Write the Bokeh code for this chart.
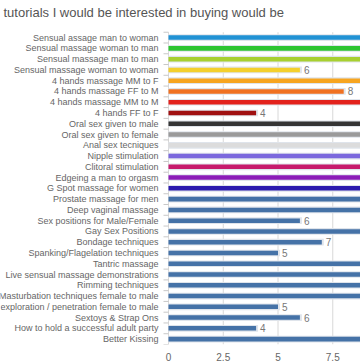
import math
from bokeh.plotting import figure
from bokeh.models import (ColumnDataSource, LabelSet, Label, Range1d, FixedTicker)
from bokeh.core.properties import value
from bokeh.embed import file_html
from bokeh.resources import INLINE

title_text = "tutorials I would be interested in buying would be"

categories = [
    "Sensual assage man to woman",
    "Sensual massage woman to man",
    "Sensual massage man to man",
    "Sensual massage woman to woman",
    "4 hands massage MM to F",
    "4 hands massage FF to M",
    "4 hands massage MM to M",
    "4 hands FF to F",
    "Oral sex given to male",
    "Oral sex given to female",
    "Anal sex tecniques",
    "Nipple stimulation",
    "Clitoral stimulation",
    "Edgeing a man to orgasm",
    "G Spot massage for women",
    "Prostate massage for men",
    "Deep vaginal massage",
    "Sex positions for Male/Female",
    "Gay Sex Positions",
    "Bondage techniques",
    "Spanking/Flagelation techniques",
    "Tantric massage",
    "Live sensual massage demonstrations",
    "Rimming techniques",
    "Masturbation techniques female to male",
    "exploration / penetration female to male",
    "Sextoys & Strap Ons",
    "How to hold a successful adult party",
    "Better Kissing",
]

values = [10, 10, 9, 6, 9, 8, 9, 4, 11, 10, 9, 10, 10, 9, 11, 9, 9, 6, 9, 7,
          5, 10, 9, 9, 9, 5, 6, 4, 10]

colors = ["#2192d4", "#2ec531", "#a8d030", "#f4d02c", "#f7a520", "#f07121",
          "#e3221c", "#a01010", "#353535", "#9a9a9a", "#dcdcdc", "#7b68dd",
          "#c71a6c", "#8c1cb8", "#2b1aae"] + ["#4572a7"] * 14

x_ticks = [0, 2.5, 5, 7.5]
x_tick_labels = ["0", "2.5", "5", "7.5"]

# layout constants (pixels)
W, H = 360, 363
BOTTOM = 16          # room for x tick labels
PLOT_LEFT = 168      # pixel where value 0 sits
ROWS_TOP = 32        # pixel where the first row starts
PX_PER_UNIT = 21.9

n = len(categories)
frame_h = H - BOTTOM
row_px = (frame_h - ROWS_TOP) / n
x_start = -PLOT_LEFT / PX_PER_UNIT
x_end = (W - PLOT_LEFT) / PX_PER_UNIT
y_end = n + ROWS_TOP / row_px

pos = [n - i - 0.5 for i in range(n)]
src = ColumnDataSource(dict(
    cat=categories, pos=pos, val=values,
    shadow=[v + 0.09 for v in values], col=colors, zero=[0] * n,
))
shown = [i for i, v in enumerate(values) if v <= x_end - 0.6]
vsrc = ColumnDataSource(dict(
    val=[values[i] for i in shown], pos=[pos[i] for i in shown],
    txt=[str(values[i]) for i in shown],
))

p = figure(width=W, height=H,
           y_range=Range1d(0, y_end), x_range=Range1d(x_start, x_end),
           output_backend="svg", toolbar_location=None,
           min_border_left=0, min_border_right=0,
           min_border_top=0, min_border_bottom=BOTTOM)
p.outline_line_color = None
p.background_fill_color = "white"
p.border_fill_color = "white"
p.xgrid.grid_line_color = None
p.ygrid.grid_line_color = None
p.yaxis.visible = False

# vertical grid lines over the row area
p.segment(x0=x_ticks, y0=[0] * len(x_ticks), x1=x_ticks, y1=[n] * len(x_ticks),
          line_color="#d8d8d8", line_width=1)

# tick marks between categories
p.ray(x=[0] * (n + 1), y=list(range(n + 1)), length=5, length_units="screen",
      angle=math.pi, line_color="#c8c8c8", line_width=1)

# bars: soft shadow + bar
p.hbar(y="pos", left=0, right="shadow", height=0.62, source=src,
       fill_color="#dfe4eb", line_color=None)
p.hbar(y="pos", left=0, right="val", height=0.42, source=src,
       fill_color="col", line_color=None)

# value labels
p.add_layout(LabelSet(x="val", y="pos", text="txt", source=vsrc, x_offset=4,
                      text_baseline="middle", text_align="left",
                      text_font=value("Liberation Sans"), text_font_size=value("10px"),
                      text_color=value("#777777")))

# category labels
p.add_layout(LabelSet(x="zero", y="pos", text="cat", source=src, x_offset=-10,
                      text_baseline="middle", text_align="right",
                      text_font=value("Liberation Sans"), text_font_size=value("9px"),
                      text_color=value("#666666")))

# x axis
xa = p.xaxis[0]
xa.ticker = FixedTicker(ticks=x_ticks)
xa.major_label_overrides = dict(zip(x_ticks, x_tick_labels))
xa.axis_line_color = None
xa.major_tick_line_color = None
xa.minor_tick_line_color = None
xa.major_label_text_font = "Liberation Sans"
xa.major_label_text_font_size = "10px"
xa.major_label_text_color = "#666666"
xa.major_label_standoff = 2

# title (cut-off chart title)
p.add_layout(Label(x=3, y=frame_h - 15, x_units="screen", y_units="screen",
                   text=title_text, text_font="Liberation Sans",
                   text_font_size="13px", text_color="#555555",
                   text_baseline="middle", text_align="left"))

open("out.html", "w").write(file_html(p, INLINE))
